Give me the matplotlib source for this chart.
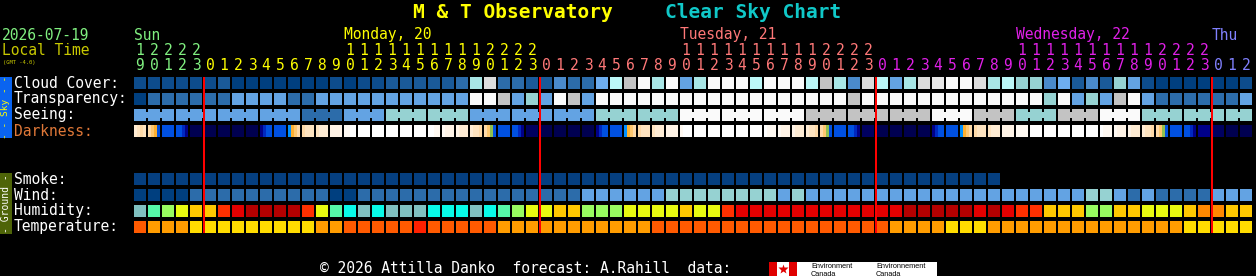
import matplotlib
matplotlib.use('Agg')
from matplotlib import pyplot as plt
from matplotlib.patches import Rectangle

# ---- data (one entry per hour, starting Sun 19:00) ----
first_hour = 19
day_names = ['Sun', 'Monday, 20', 'Tuesday, 21', 'Wednesday, 22', 'Thu']

cloud = [1, 1, 1, 1, 1, 1, 2, 0, 0, 0, 0, 0, 0, 0, 1, 0, 1, 1, 2, 2,
         2, 2, 2, 3, 8, 11, 3, 3, 2, 2, 4, 3, 3, 6, 9, 10, 13, 8, 13, 5,
         8, 13, 13, 13, 9, 13, 13, 13, 9, 10, 8, 4, 11, 9, 5, 8, 11, 12, 13, 13,
         11, 8, 9, 7, 7, 4, 6, 2, 4, 2, 7, 5, 1, 0, 0, 0, 0, 0, 0, 1]
transparency = [0, 1, 1, 1, 1, 1, 1, 2, 2, 2, 2, 1, 1, 2, 2, 2, 2, 2, 2, 2,
                2, 2, 2, 2, 5, 5, 4, 2, 3, 2, 5, 4, 2, 5, 5, 5, 5, 5, 5, 5,
                5, 5, 5, 5, 5, 5, 5, 5, 5, 5, 5, 4, 5, 5, 5, 5, 5, 5, 5, 5,
                5, 5, 5, 5, 5, 3, 5, 2, 3, 2, 4, 5, 2, 1, 1, 1, 1, 1, 1, 2]
# seeing comes in 3-hour blocks
seeing = [1, 1, 1, 1, 0, 1, 2, 2, 1, 1, 1, 2, 2, 4, 4, 4, 3, 3, 3, 4, 3, 2, 3, 4, 2, 2, 2]
darkness = ['cqpq', 'poOB', 'BBBB', 'BBMD', 'NNNN', 'NNNN', 'NNNN', 'NNNN', 'NNNN', 'DMBB',
            'BBBB', 'LOop', 'pqqq', 'qccc', 'dddd', 'eeWW', 'WWWW', 'WWWW', 'WWWW', 'WWWW',
            'WWWW', 'WWee', 'eddd', 'dccc', 'cqqp', 'poGB', 'BBBB', 'BBMD', 'nnnn', 'NNNN',
            'NNNN', 'NNNN', 'NNNN', 'DMBB', 'BBBB', 'LOop', 'pqqq', 'qccc', 'dddd', 'eWWW',
            'WWWW', 'WWWW', 'WWWW', 'WWWW', 'WWWW', 'Weee', 'eddd', 'dccc', 'cqqp', 'poGB',
            'BBBB', 'BBMD', 'nnnn', 'NNNN', 'NNNN', 'NNNN', 'NNNN', 'DMBB', 'BBBB', 'LOop',
            'pqqq', 'qccc', 'dddd', 'eeee', 'WWWW', 'WWWW', 'WWWW', 'WWWW', 'WWWW', 'Weee',
            'eddd', 'dccc', 'cqqp', 'poGB', 'BBBB', 'BBMD', 'DDDD', 'nnnn', 'NNNN', 'NNNN']
smoke = [0, 0, 0, 0, 0, 0, 0, 0, 0, 0, 0, 0, 0, 0, 0, 0, 0, 0, 0, 0,
         0, 0, 0, 0, 0, 0, 0, 0, 0, 0, 0, 0, 0, 0, 0, 0, 0, 0, 0, 0,
         0, 0, 0, 0, 0, 0, 0, 0, 0, 0, 0, 0, 0, 0, 0, 0, 0, 0, 0, 0,
         0, 0]
wind = [0, 0, 0, 0, 1, 1, 1, 1, 1, 1, 1, 1, 1, 1, 0, 0, 1, 1, 1, 1,
        1, 1, 1, 1, 1, 1, 1, 1, 1, 1, 1, 1, 2, 2, 2, 2, 2, 2, 3, 3,
        3, 3, 3, 3, 3, 3, 2, 3, 2, 2, 2, 2, 2, 2, 2, 2, 2, 2, 2, 2,
        2, 2, 2, 2, 2, 2, 2, 2, 3, 3, 2, 1, 2, 1, 1, 1, 1, 2, 2, 2]
humidity = [0, 2, 3, 4, 5, 5, 7, 8, 9, 9, 9, 9, 7, 4, 2, 1, 0, 1, 0, 0,
            0, 1, 1, 1, 0, 1, 2, 3, 4, 4, 5, 5, 3, 3, 3, 4, 4, 4, 4, 5,
            4, 4, 7, 8, 8, 8, 8, 8, 8, 8, 8, 8, 8, 8, 8, 9, 9, 9, 9, 9,
            8, 9, 8, 7, 7, 5, 5, 5, 3, 3, 5, 5, 4, 4, 4, 5, 6, 6, 5, 5]
temperature = [2, 1, 1, 1, 0, 0, 0, 0, 0, 0, 0, 0, 0, 1, 1, 2, 2, 2, 2, 2,
               3, 2, 2, 2, 2, 2, 1, 1, 1, 1, 1, 1, 1, 1, 1, 1, 1, 2, 2, 2,
               2, 2, 2, 2, 2, 2, 2, 2, 2, 2, 2, 2, 2, 2, 1, 1, 1, 1, 0, 0,
               0, 1, 1, 1, 1, 1, 1, 1, 1, 1, 1, 1, 1, 1, 1, 0, 0, 0, 0, 0]

# ---- colour scales ----
cloud_colors = ['#003f7f', '#0d4c8c', '#1a5a99', '#2c6caa', '#4a8acb', '#63a3e3', '#6eaef0',
                '#96d2d2', '#a8e6e6', '#bbf7f7', '#c3c3c3', '#dcdcdc', '#e8e8e8', '#fafafa']
transp_colors = ['#003f7f', '#2c6caa', '#63a3e3', '#96d2d2', '#c3c3c3', '#fafafa']
seeing_colors = ['#2c6caa', '#63a3e3', '#96d2d2', '#c3c3c3', '#fafafa']
dark_colors = {'N': '#000050', 'n': '#000060', 'D': '#000088', 'M': '#0028c0', 'B': '#0050e0',
               'L': '#0090ff', 'G': '#90c050', 'O': '#ffb030', 'o': '#ffc870', 'p': '#ffdaa8',
               'q': '#ffe4c0', 'c': '#ffecd4', 'd': '#fff3e6', 'e': '#fff9f2', 'W': '#ffffff'}
smoke_colors = ['#053f80']
wind_colors = ['#003f7f', '#2c6caa', '#63a3e3', '#96d2d2']
hum_colors = ['#80c0c0', '#08fae8', '#55f8a8', '#98fb60', '#e8fa10', '#ffc800', '#ff8800',
              '#ff3000', '#e40000', '#b40000']
temp_colors = ['#ffdc00', '#ff9c00', '#ff5a00', '#ff2000']
day_colors = ['#80f080', '#ffff00', '#ff7878', '#e020e8', '#8080ff']

W, H = 1256, 276
X0, PITCH, CELL = 134, 14, 12
MONO = 'DejaVu Sans Mono'

fig = plt.figure(figsize=(W / 100, H / 100), dpi=100, facecolor='black')
ax = fig.add_axes([0, 0, 1, 1])
ax.set_xlim(0, W)
ax.set_ylim(H, 0)
ax.axis('off')
ax.set_facecolor('black')


def box(x, y, w, h, color):
    ax.add_patch(Rectangle((x, y), w, h, facecolor=color, edgecolor='none', lw=0))


def cell_row(values, colors, top):
    for i, v in enumerate(values):
        box(X0 + i * PITCH, top, CELL, CELL, colors[v])


n = len(cloud)
hours = [(first_hour + i) % 24 for i in range(n)]
day_idx = []
d = 0
for i, h in enumerate(hours):
    if i > 0 and h == 0:
        d += 1
    day_idx.append(d)

# title
ax.text(413, 18, 'M & T Observatory', color='#ffff00', fontsize=14, fontweight='bold',
        family=MONO, va='baseline')
ax.text(665, 18, 'Clear Sky Chart', color='#10c8c8', fontsize=14, fontweight='bold',
        family=MONO, va='baseline')

# left header
ax.text(2, 39.5, '2026-07-19', color='#80f080', fontsize=10.5, family=MONO, va='baseline')
ax.text(2, 55, 'Local Time', color='#c8c800', fontsize=10.5, family=MONO, va='baseline')
ax.text(3, 64, '(GMT -4.0)', color='#c8c800', fontsize=4, family=MONO, va='baseline')

# day names and hour digits
for k, name in enumerate(day_names):
    cols = [i for i in range(n) if day_idx[i] == k]
    late = [i for i in cols if hours[i] >= 10]
    c0 = late[0] if late else cols[0]
    ax.text(X0 + c0 * PITCH, 39.5, name, color=day_colors[k], fontsize=10.5,
            family=MONO, va='baseline')
for i, h in enumerate(hours):
    xc = X0 + i * PITCH + CELL / 2
    col = day_colors[day_idx[i]]
    if h >= 10:
        ax.text(xc, 55, str(h // 10), color=col, fontsize=10.5, family=MONO,
                ha='center', va='baseline')
    ax.text(xc, 70, str(h % 10), color=col, fontsize=10.5, family=MONO,
            ha='center', va='baseline')

# row labels
labels = [('Cloud Cover:', 77, 'white'), ('Transparency:', 93, 'white'),
          ('Seeing:', 109, 'white'), ('Darkness:', 125, '#e07838'),
          ('Smoke:', 173, 'white'), ('Wind:', 189, 'white'),
          ('Humidity:', 205, 'white'), ('Temperature:', 221, 'white')]
for text, top, color in labels:
    ax.text(14, top + 10.5, text, color=color, fontsize=10.5, family=MONO, va='baseline')

# side bands
box(0, 77, 12, 61, '#0a64f0')
ax.text(6, 107.5, '- - Sky - -', color='#ffff00', fontsize=6.8, family=MONO,
        rotation=90, ha='center', va='center')
box(0, 173, 12, 61, '#4e6408')
ax.text(6, 203.5, '- Ground -', color='white', fontsize=7, family=MONO,
        rotation=90, ha='center', va='center')

# sky rows
cell_row(cloud, cloud_colors, 77)
cell_row(transparency, transp_colors, 93)
for b, v in enumerate(seeing):
    cols = [c for c in range(3 * b, 3 * b + 3) if c < n]
    for j, c in enumerate(cols):
        x = X0 + c * PITCH
        box(x, 109, CELL, CELL, seeing_colors[v])
        if j < len(cols) - 1:
            box(x + CELL, 112, PITCH - CELL, 6, seeing_colors[v])
for i, s in enumerate(darkness):
    sub = CELL / len(s)
    for j, ch in enumerate(s):
        box(X0 + i * PITCH + j * sub, 125, sub + 0.05, CELL, dark_colors[ch])

# ground rows
cell_row(smoke, smoke_colors, 173)
cell_row(wind, wind_colors, 189)
cell_row(humidity, hum_colors, 205)
cell_row(temperature, temp_colors, 221)

# midnight lines
for i, h in enumerate(hours):
    if h == 0:
        box(X0 + i * PITCH - 1, 77, 2, 156, '#ff0000')

# footer
ax.text(320, 273, '\u00a9 2026 Attilla Danko  forecast: A.Rahill  data:', color='white',
        fontsize=10.5, family=MONO, va='baseline')
box(769, 262, 168, 14, 'white')
box(769, 262, 8, 14, '#e00000')
box(789, 262, 8, 14, '#e00000')
ax.plot([783], [269], marker='*', color='#e00000', markersize=7, mec='none')
for x, word in [(811, 'Environment'), (876, 'Environnement')]:
    ax.text(x, 268.5, word, color='black', fontsize=5.3, family='Liberation Sans', va='baseline')
    ax.text(x, 275.5, 'Canada', color='black', fontsize=5.3, family='Liberation Sans', va='baseline')

fig.savefig('out.png', dpi=100, facecolor='black')
